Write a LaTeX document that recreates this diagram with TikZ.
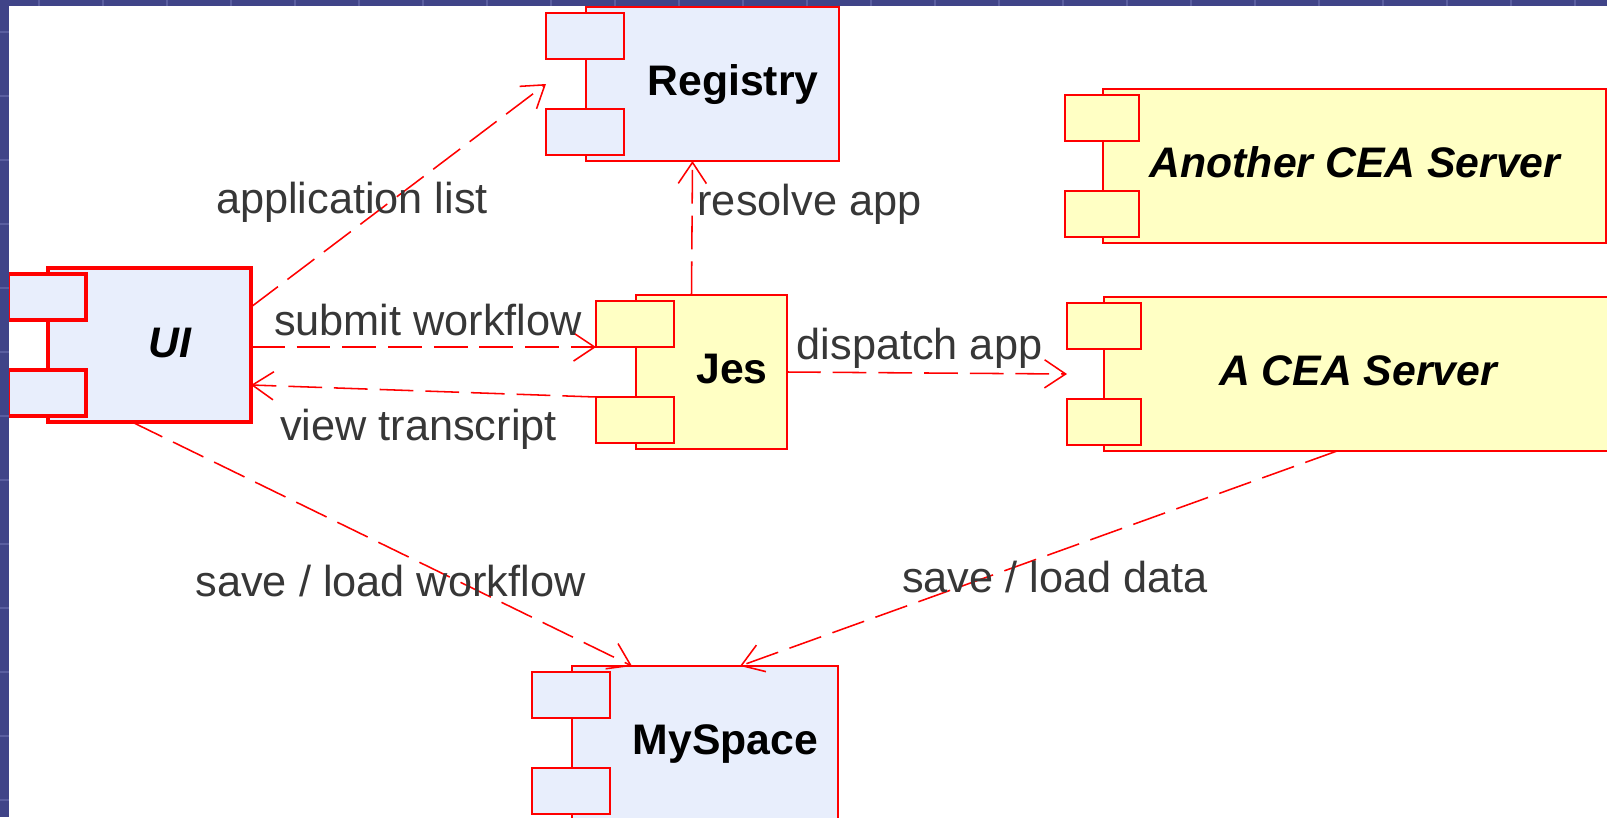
\documentclass[tikz,border=0pt]{standalone}
\usepackage{fontspec}
\setmainfont{Liberation Sans}
\usetikzlibrary{arrows.meta}
\definecolor{slideblue}{RGB}{64,68,136}
\definecolor{slidegrid}{RGB}{90,94,160}
\definecolor{compblue}{RGB}{232,238,252}
\definecolor{compyellow}{RGB}{255,255,196}
\definecolor{labelgray}{RGB}{55,55,55}

\begin{document}
\begin{tikzpicture}[
		every node/.style={outer sep=0pt, inner sep=0pt},
		compbody/.style={rectangle, draw=red, line width=1.1pt, minimum height=3.85cm},
		comptab/.style={rectangle, draw=red, line width=1.1pt, minimum width=1.95cm, minimum height=1.15cm},
		compname/.style={anchor=base, font=\fontsize{30.4}{36}\selectfont\bfseries},
		msglabel/.style={anchor=base, text=labelgray, font=\fontsize{30.8}{37}\selectfont},
		flowline/.style={draw=red, line width=1.1pt, dash pattern=on 24pt off 8.5pt,
			-{Straight Barb[length=15pt, width=20pt]}}
	]
  \useasboundingbox (0,0) rectangle (40.175,-20.425);
  \fill [white] (0,0) rectangle (40.175,-20.425);

  \node (ui) [compbody, fill=compblue, line width=2.4pt, minimum width=5.075cm] at (3.7375cm, -8.625cm) {};
  \node (ui-t1) [comptab, fill=compblue, line width=2.4pt, anchor=north west] at ([xshift=-1cm, yshift=-0.15cm]ui.north west) {};
  \node (ui-t2) [comptab, fill=compblue, line width=2.4pt, anchor=south west] at ([xshift=-1cm, yshift=0.15cm]ui.south west) {};
  \node (ui-l) [compname] at (4.25cm, -8.925cm) {\itshape UI};

  \node (reg) [compbody, fill=compblue, minimum width=6.325cm] at (17.8125cm, -2.1cm) {};
  \node (reg-t1) [comptab, fill=compblue, anchor=north west] at ([xshift=-1cm, yshift=-0.15cm]reg.north west) {};
  \node (reg-t2) [comptab, fill=compblue, anchor=south west] at ([xshift=-1cm, yshift=0.15cm]reg.south west) {};
  \node (reg-l) [compname] at (18.325cm, -2.375cm) {Registry};

  \node (jes) [compbody, fill=compyellow, minimum width=3.775cm] at (17.7875cm, -9.3cm) {};
  \node (jes-t1) [comptab, fill=compyellow, anchor=north west] at ([xshift=-1cm, yshift=-0.15cm]jes.north west) {};
  \node (jes-t2) [comptab, fill=compyellow, anchor=south west] at ([xshift=-1cm, yshift=0.15cm]jes.south west) {};
  \node (jes-l) [compname] at (18.3cm, -9.575cm) {Jes};

  \node (cea2) [compbody, fill=compyellow, minimum width=12.575cm] at (33.8625cm, -4.15cm) {};
  \node (cea2-t1) [comptab, fill=compyellow, minimum width=1.85cm, anchor=north west] at ([xshift=-0.95cm, yshift=-0.15cm]cea2.north west) {};
  \node (cea2-t2) [comptab, fill=compyellow, minimum width=1.85cm, anchor=south west] at ([xshift=-0.95cm, yshift=0.15cm]cea2.south west) {};
  \node (cea2-l) [compname] at (33.875cm, -4.425cm) {\itshape Another CEA Server};

  \node (cea) [compbody, fill=compyellow, minimum width=12.9cm] at (34.05cm, -9.35cm) {};
  \node (cea-t1) [comptab, fill=compyellow, minimum width=1.85cm, anchor=north west] at ([xshift=-0.925cm, yshift=-0.15cm]cea.north west) {};
  \node (cea-t2) [comptab, fill=compyellow, minimum width=1.85cm, anchor=south west] at ([xshift=-0.925cm, yshift=0.15cm]cea.south west) {};
  \node (cea-l) [compname] at (33.95cm, -9.625cm) {\itshape A CEA Server};

  \node (mys) [compbody, fill=compblue, minimum width=6.65cm] at (17.625cm, -18.575cm) {};
  \node (mys-t1) [comptab, fill=compblue, anchor=north west] at ([xshift=-1cm, yshift=-0.15cm]mys.north west) {};
  \node (mys-t2) [comptab, fill=compblue, anchor=south west] at ([xshift=-1cm, yshift=0.15cm]mys.south west) {};
  \node (mys-l) [compname] at (18.1375cm, -18.85cm) {MySpace};

  \draw [flowline] ([yshift=0.95cm]ui.east) -- (reg-t1.west |- reg.center);
  \draw [flowline] (ui.east |- jes-t1.south west) -- (jes-t1.south west);
  \draw [flowline] (jes-t2.north west) -- ([yshift=-1cm]ui.east);
  \draw [flowline] ([xshift=-0.5cm]jes.north) -- ([xshift=-0.5cm]reg.south);
  \draw [flowline] (jes.east) -- (cea-t1.west |- cea.center);
  \draw [flowline] ([xshift=-0.4375cm]ui.south) -- ([xshift=-1.825cm]mys.north);
  \draw [flowline] ([xshift=-0.625cm]cea.south) -- ([xshift=0.875cm]mys.north);

  \node (m-list) [msglabel] at (8.8cm, -5.325cm) {application list};
  \node (m-submit) [msglabel] at (10.7cm, -8.375cm) {submit workflow};
  \node (m-view) [msglabel] at (10.4625cm, -11cm) {view transcript};
  \node (m-resolve) [msglabel] at (20.2375cm, -5.375cm) {resolve app};
  \node (m-dispatch) [msglabel] at (22.9875cm, -8.975cm) {dispatch app};
  \node (m-wf) [msglabel] at (9.7625cm, -14.9cm) {save / load workflow};
  \node (m-data) [msglabel] at (26.375cm, -14.8cm) {save / load data};

  \fill [slideblue] (0,0) rectangle (0.225,-20.425);
  \fill [slideblue] (0,0) rectangle (40.175,-0.15);
  \foreach \x in {0,...,24}
    \draw [slidegrid, line width=0.8pt] ({0.975+1.6*\x},0) -- ++(0,-0.15);
  \foreach \y in {0,...,12}
    \draw [slidegrid, line width=0.8pt] (0,{-0.8-1.6*\y}) -- ++(0.225,0);
\end{tikzpicture}
\end{document}
